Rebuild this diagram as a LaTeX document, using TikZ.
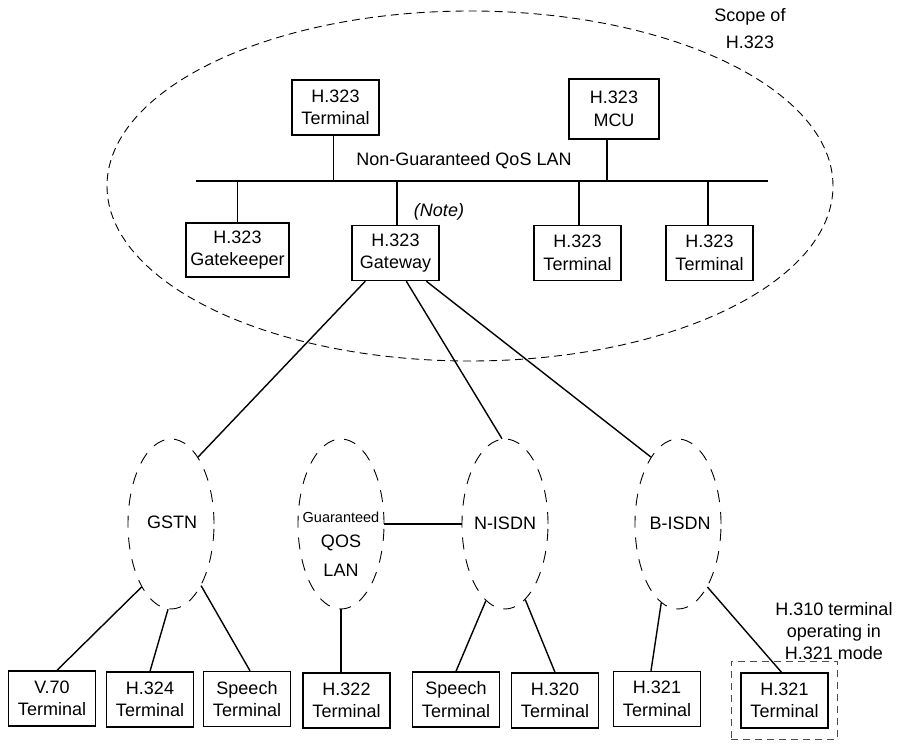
\documentclass[tikz,border=0pt]{standalone}
\usepackage{fontspec}
\setmainfont{Liberation Sans}
\usetikzlibrary{shapes.geometric}
\begin{document}
\begin{tikzpicture}[x=1pt,y=-1pt,
  box/.style={draw,line width=1.4pt,minimum width=87pt,minimum height=55pt,inner sep=0pt,align=center,font=\fontsize{18}{22.5}\selectfont},
  net/.style={draw,ellipse,dash pattern=on 12pt off 10pt,line width=0.9pt,minimum width=86pt,minimum height=170pt,inner sep=0pt},
  lbl/.style={font=\fontsize{18}{22}\selectfont,align=center,inner sep=0pt},
  conn/.style={line width=1.4pt}]
\useasboundingbox (0,0) rectangle (898,746);

% scope ellipse
\node[draw,ellipse,dash pattern=on 8pt off 5pt,line width=0.9pt,minimum width=726pt,minimum height=350pt,inner sep=0pt] (scope) at (470,186) {};
\node[lbl] (scopelbl) at (750,28.5) {Scope of\\[5pt]H.323};

% top boxes
\node[box] (t1) at (335.5,107.5) {H.323\\Terminal};
\node[box,minimum width=90pt,minimum height=60pt] (mcu) at (614,109) {H.323\\MCU};
\node[box,minimum width=103pt,minimum height=54pt] (gk) at (237.5,250) {H.323\\Gatekeeper};
\node[box] (gw) at (395.5,253) {H.323\\Gateway};
\node[box] (t2) at (577.5,253) {H.323\\Terminal};
\node[box] (t3) at (709.5,253) {H.323\\Terminal};

% LAN bus
\coordinate (busL) at (196,181);
\coordinate (busR) at (768,181);
\draw[line width=1.8pt] (busL) -- (busR);
\node[lbl] (lanlbl) at (464,161) {Non-Guaranteed QoS LAN};
\node[lbl,font=\fontsize{18}{22}\selectfont\itshape] (note) at (439,212) {(Note)};

\draw[conn] ([xshift=-2pt]t1.south) -- ([xshift=-2pt]t1.south |- busL);
\draw[conn] ([xshift=-7pt]mcu.south) -- ([xshift=-7pt]mcu.south |- busL);
\draw[conn] (gk.north) -- (gk.north |- busL);
\draw[conn] ([xshift=1.5pt]gw.north) -- ([xshift=1.5pt]gw.north |- busL);
\draw[conn] ([xshift=1.5pt]t2.north) -- ([xshift=1.5pt]t2.north |- busL);
\draw[conn] ([xshift=-1.5pt]t3.north) -- ([xshift=-1.5pt]t3.north |- busL);

% networks
\node[net] (gstn) at (171,524) {};
\node[net] (qlan) at (341,524) {};
\node[net] (nisdn) at (505,524) {};
\node[net] (bisdn) at (678,524) {};
\node[lbl] (gstnlbl) at (172,522) {GSTN};
\node[lbl] (nisdnlbl) at (505,523) {N-ISDN};
\node[lbl] (bisdnlbl) at (680,523) {B-ISDN};
\node[lbl,font=\fontsize{14.5}{16}\selectfont] (guar) at (341,517) {Guaranteed};
\node[lbl] (qos) at (341,543) {QOS};
\node[lbl] (lan) at (341,570) {LAN};

% gateway links
\draw[conn] ([xshift=14pt]gw.south west) -- (gstn.68.5);
\draw[conn] ([xshift=55pt]gw.south west) -- (nisdn.92);
\draw[conn] ([xshift=75pt]gw.south west) -- (bisdn.112);
\draw[conn] (qlan.east) -- (nisdn.west);

% bottom boxes
\node[box] (v70) at (52,698.5) {V.70\\Terminal};
\node[box] (h324) at (150,699.5) {H.324\\Terminal};
\node[box] (sp1) at (247,699) {Speech\\Terminal};
\node[box] (h322) at (346.5,700.5) {H.322\\Terminal};
\node[box] (sp2) at (456,699.5) {Speech\\Terminal};
\node[box] (h320) at (555,700.5) {H.320\\Terminal};
\node[box] (h321a) at (657,699) {H.321\\Terminal};
\node[box] (h321b) at (784.5,700.5) {H.321\\Terminal};
\node[draw,dash pattern=on 7pt off 5pt,line width=1pt,black!70,minimum width=106pt,minimum height=78pt,inner sep=0pt] (h310box) at (784,700) {};
\node[lbl] (h310lbl) at (834,631) {H.310 terminal\\operating in\\H.321 mode};

% bottom links
\draw[conn] (gstn.245) -- ([xshift=5pt]v70.north);
\draw[conn] (gstn.268) -- (h324.north);
\draw[conn] (gstn.296) -- ([xshift=3pt]sp1.north);
\draw[conn] (qlan.south) -- (qlan.south |- h322.north);
\draw[conn] (nisdn.256.5) -- (sp2.north);
\draw[conn] (nisdn.285) -- (h320.north);
\draw[conn] (bisdn.258) -- ([xshift=-6pt]h321a.north);
\draw[conn] (bisdn.295.5) -- ([xshift=-3pt]h321b.north);
\end{tikzpicture}
\end{document}
